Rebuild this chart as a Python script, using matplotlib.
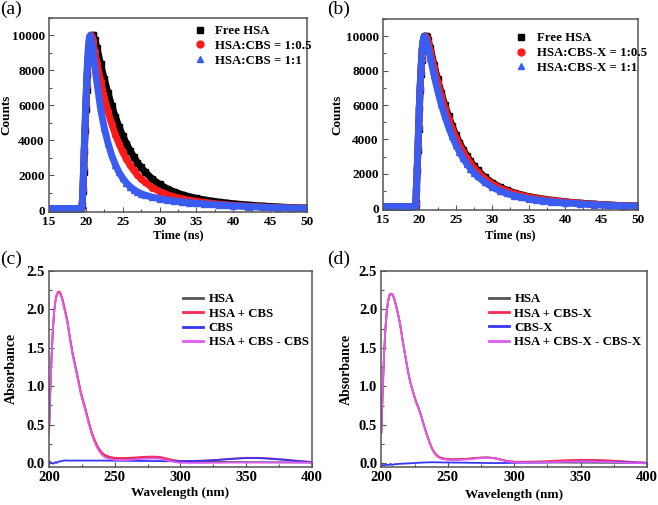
import matplotlib
matplotlib.use("Agg")
import matplotlib.pyplot as plt
from matplotlib.ticker import MultipleLocator
from matplotlib.lines import Line2D

plt.rcParams["font.family"] = ["Liberation Serif", "DejaVu Serif"]
plt.rcParams["font.weight"] = "bold"

# ---- fluorescence decay data (time in ns, counts) ----
t_ns = [15, 16, 17, 18, 19, 19.4, 19.5, 19.6, 19.7, 19.8, 19.9, 20.0, 20.1, 20.2,
        20.3, 20.4, 20.5, 20.6, 20.7, 20.8, 20.9, 21.0, 21.2, 21.5, 22, 22.5, 23,
        23.5, 24, 24.5, 25, 25.5, 26, 26.5, 27, 27.5, 28, 29, 30, 31, 32, 33, 34,
        35, 36, 37, 38, 39, 40, 42, 44, 46, 48, 50]

free_hsa = [100, 100, 100, 100, 100, 110, 300, 1100, 2200, 3400, 4600, 5800, 6900,
            7800, 8600, 9200, 9600, 9850, 9970, 10000, 10000, 9950, 9750, 9300,
            8350, 7500, 6700, 5980, 5340, 4770, 4260, 3810, 3410, 3050, 2730, 2450,
            2200, 1790, 1480, 1240, 1050, 900, 780, 680, 600, 530, 470, 420, 375,
            300, 240, 190, 150, 125]

cbs_05 = [100, 100, 100, 100, 100, 120, 350, 1200, 2400, 3600, 4800, 6000, 7100,
          8000, 8750, 9350, 9750, 9950, 10000, 9900, 9750, 9550, 9100, 8450, 7400,
          6450, 5650, 4950, 4330, 3800, 3330, 2930, 2580, 2280, 2020, 1800, 1610,
          1300, 1070, 900, 770, 665, 580, 510, 450, 400, 355, 315, 285, 230, 185,
          150, 128, 112]

cbs_1 = [100, 100, 100, 100, 100, 130, 400, 1300, 2600, 3900, 5100, 6300, 7400,
         8350, 9100, 9650, 9950, 10000, 9850, 9600, 9300, 8950, 8250, 7300, 5800,
         4700, 3850, 3150, 2600, 2170, 1830, 1560, 1350, 1180, 1050, 950, 870, 750,
         660, 590, 530, 480, 440, 400, 365, 335, 305, 280, 255, 210, 172, 143, 123,
         108]

cbsx_05 = [100, 100, 100, 100, 100, 115, 320, 1150, 2300, 3500, 4700, 5900, 7000,
           7900, 8650, 9250, 9650, 9900, 9980, 10000, 9980, 9900, 9650, 9150, 8200,
           7330, 6530, 5820, 5180, 4610, 4100, 3660, 3270, 2920, 2610, 2340, 2100,
           1710, 1410, 1180, 1000, 860, 745, 650, 575, 510, 455, 405, 365, 290, 230,
           185, 148, 122]

cbsx_1 = [100, 100, 100, 100, 100, 120, 350, 1200, 2400, 3600, 4800, 6000, 7100,
          8000, 8750, 9350, 9750, 9950, 10000, 9950, 9850, 9700, 9350, 8750, 7750,
          6850, 6050, 5350, 4730, 4180, 3700, 3280, 2910, 2590, 2310, 2060, 1850,
          1500, 1230, 1020, 860, 735, 635, 555, 490, 435, 390, 350, 315, 255, 205,
          165, 135, 115]

# ---- UV-vis absorbance data ----
wl = [200, 201, 202, 203, 204, 205, 206, 207, 208, 209, 210, 211, 212, 214, 216,
      218, 220, 222, 224, 226, 228, 230, 232, 234, 236, 238, 240, 242, 245, 250,
      255, 260, 265, 270, 275, 280, 285, 290, 295, 300, 310, 320, 330, 340, 350,
      360, 370, 380, 390, 400]

hsa_c = [0.40, 0.95, 1.40, 1.75, 1.98, 2.12, 2.19, 2.22, 2.22, 2.19, 2.14, 2.07,
         2.00, 1.84, 1.62, 1.42, 1.26, 1.10, 0.93, 0.80, 0.68, 0.54, 0.42, 0.32,
         0.24, 0.175, 0.13, 0.10, 0.075, 0.058, 0.055, 0.057, 0.062, 0.069, 0.075,
         0.077, 0.070, 0.048, 0.028, 0.020, 0.016, 0.014, 0.012, 0.011, 0.010,
         0.009, 0.008, 0.007, 0.006, 0.005]
mix_c = [0.41, 0.96, 1.41, 1.76, 1.99, 2.13, 2.20, 2.23, 2.23, 2.20, 2.15, 2.08,
         2.01, 1.85, 1.63, 1.43, 1.27, 1.11, 0.94, 0.81, 0.69, 0.55, 0.43, 0.33,
         0.25, 0.185, 0.14, 0.11, 0.085, 0.066, 0.063, 0.065, 0.070, 0.076, 0.081,
         0.082, 0.076, 0.055, 0.035, 0.024, 0.024, 0.030, 0.042, 0.056, 0.066,
         0.066, 0.056, 0.042, 0.026, 0.012]
cbs_c = [0.02, 0.01, 0.0, -0.01, -0.005, 0.01, 0.0, 0.015, 0.02, 0.02, 0.025, 0.03,
         0.032, 0.03, 0.03, 0.03, 0.03, 0.03, 0.03, 0.03, 0.03, 0.03, 0.03, 0.03,
         0.03, 0.03, 0.03, 0.03, 0.029, 0.028, 0.028, 0.027, 0.026, 0.025, 0.025,
         0.024, 0.023, 0.022, 0.022, 0.022, 0.025, 0.030, 0.040, 0.052, 0.062,
         0.062, 0.052, 0.038, 0.022, 0.010]
diff_c = [0.39, 0.95, 1.41, 1.77, 1.99, 2.12, 2.20, 2.21, 2.21, 2.18, 2.13, 2.05,
          1.98, 1.82, 1.60, 1.40, 1.24, 1.08, 0.91, 0.78, 0.66, 0.52, 0.40, 0.30,
          0.22, 0.155, 0.11, 0.08, 0.056, 0.038, 0.035, 0.038, 0.044, 0.051, 0.056,
          0.058, 0.053, 0.033, 0.013, 0.002, -0.001, 0.0, 0.002, 0.004, 0.004,
          0.004, 0.004, 0.004, 0.004, 0.002]

hsa_d = [0.40, 0.92, 1.38, 1.72, 1.95, 2.09, 2.17, 2.20, 2.20, 2.17, 2.12, 2.05,
         1.98, 1.82, 1.60, 1.40, 1.20, 1.04, 0.92, 0.81, 0.72, 0.62, 0.50, 0.39,
         0.29, 0.20, 0.14, 0.10, 0.07, 0.055, 0.052, 0.055, 0.060, 0.068, 0.075,
         0.077, 0.070, 0.050, 0.030, 0.020, 0.015, 0.013, 0.012, 0.011, 0.010,
         0.009, 0.008, 0.007, 0.006, 0.005]
mix_d = [0.40, 0.92, 1.38, 1.72, 1.95, 2.09, 2.17, 2.20, 2.20, 2.17, 2.12, 2.05,
         1.98, 1.82, 1.60, 1.40, 1.20, 1.04, 0.92, 0.81, 0.72, 0.62, 0.50, 0.39,
         0.29, 0.20, 0.14, 0.10, 0.07, 0.055, 0.052, 0.055, 0.060, 0.068, 0.075,
         0.077, 0.070, 0.050, 0.030, 0.022, 0.022, 0.026, 0.034, 0.042, 0.047,
         0.046, 0.040, 0.030, 0.018, 0.008]
cbs_d = [-0.02, -0.022, -0.025, -0.02, -0.015, -0.018, -0.02, -0.005, -0.02,
         -0.015, -0.01, -0.01, -0.008, -0.005, -0.003, -0.002, 0.0, 0.002, 0.004,
         0.006, 0.008, 0.01, 0.012, 0.013, 0.014, 0.015, 0.015, 0.014, 0.013,
         0.012, 0.011, 0.010, 0.009, 0.008, 0.007, 0.005, 0.005, 0.005, 0.006,
         0.008, 0.010, 0.012, 0.016, 0.020, 0.025, 0.025, 0.022, 0.018, 0.012,
         0.008]
diff_d = [0.42, 0.94, 1.40, 1.74, 1.97, 2.11, 2.19, 2.20, 2.20, 2.18, 2.13, 2.06,
          1.99, 1.83, 1.60, 1.40, 1.20, 1.04, 0.92, 0.80, 0.71, 0.61, 0.49, 0.38,
          0.28, 0.19, 0.13, 0.09, 0.06, 0.045, 0.042, 0.046, 0.052, 0.061, 0.069,
          0.073, 0.066, 0.046, 0.025, 0.014, 0.012, 0.014, 0.018, 0.022, 0.022,
          0.021, 0.018, 0.012, 0.006, 0.0]

fig = plt.figure(figsize=(6.58, 5.05), dpi=100)
ax_a = fig.add_axes([0.0745, 0.5802, 0.3921, 0.3842])
ax_b = fig.add_axes([0.582, 0.5842, 0.3876, 0.3782])
ax_c = fig.add_axes([0.0745, 0.0758, 0.3992, 0.3876])
ax_d = fig.add_axes([0.5795, 0.0747, 0.4038, 0.3893])

black, red, blue = "#000000", "#ff1a1a", "#3a5cf0"


def style(ax, tick_size):
    for s in ax.spines.values():
        s.set_color("#555555")
        s.set_linewidth(1.1)
    ax.tick_params(which="both", direction="in", top=False, right=False,
                   labelsize=tick_size, color="#555555", pad=3)
    ax.tick_params(which="major", length=3.5, width=0.8)
    ax.tick_params(which="minor", length=2, width=0.8)
    for lab in ax.get_xticklabels() + ax.get_yticklabels():
        lab.set_fontweight("bold")


def decay(ax, series, labels, lab_xy):
    marks = ["s", "o", "^"]
    cols = [black, red, blue]
    handles = []
    for ys, m, c, lab in zip(series, marks, cols, labels):
        ax.plot(t_ns, ys, color=c, lw=5.0, solid_capstyle="round")
        ax.plot(t_ns, ys, ls="none", marker=m, ms=4.2, color=c, mec=c)
        handles.append(Line2D([], [], ls="none", marker=m, ms=5, color=c, label=lab))
    ax.set_xlim(15, 50)
    ax.set_ylim(-100, 11000)
    ax.xaxis.set_major_locator(MultipleLocator(5))
    ax.xaxis.set_minor_locator(MultipleLocator(2.5))
    ax.yaxis.set_major_locator(MultipleLocator(2000))
    ax.yaxis.set_minor_locator(MultipleLocator(1000))
    ax.set_xlabel("Time (ns)", fontsize=9, fontweight="bold")
    ax.set_ylabel("Counts", fontsize=9.5, fontweight="bold")
    style(ax, 9.5)
    ax.legend(handles=handles, loc="upper left", bbox_to_anchor=lab_xy,
              frameon=False, handlelength=1.0, handletextpad=0.7,
              labelspacing=0.2, borderpad=0, borderaxespad=0,
              prop={"weight": "bold", "size": 9.3})


def absorb(ax, series, labels, lab_xy):
    cols = ["#555555", "#ff2a55", "#3535f5", "#dd5cf0"]
    for ys, c, lab in zip(series, cols, labels):
        ax.plot(wl, ys, color=c, lw=1.3, label=lab)
    ax.set_xlim(200, 400)
    ax.set_ylim(-0.05, 2.5)
    ax.xaxis.set_major_locator(MultipleLocator(50))
    ax.xaxis.set_minor_locator(MultipleLocator(25))
    ax.yaxis.set_major_locator(MultipleLocator(0.5))
    ax.yaxis.set_minor_locator(MultipleLocator(0.25))
    ax.yaxis.set_major_formatter(plt.FormatStrFormatter("%.1f"))
    ax.set_xlabel("Wavelength (nm)", fontsize=9.5, fontweight="bold")
    ax.set_ylabel("Absorbance", fontsize=10, fontweight="bold")
    style(ax, 10.5)
    leg = ax.legend(loc="upper left", bbox_to_anchor=lab_xy, frameon=False,
                    handlelength=1.6, handletextpad=0.4, labelspacing=0.18,
                    borderpad=0, borderaxespad=0,
                    prop={"weight": "bold", "size": 9.2})
    for h in leg.get_lines():
        h.set_linewidth(2.0)


decay(ax_a, [free_hsa, cbs_05, cbs_1],
      ["Free HSA", "HSA:CBS = 1:0.5", "HSA:CBS = 1:1"], (0.56, 0.962))
decay(ax_b, [free_hsa, cbsx_05, cbsx_1],
      ["Free HSA", "HSA:CBS-X = 1:0.5", "HSA:CBS-X = 1:1"], (0.516, 0.93))
absorb(ax_c, [hsa_c, mix_c, cbs_c, diff_c],
       ["HSA", "HSA + CBS", "CBS", "HSA + CBS - CBS"], (0.51, 0.885))
absorb(ax_d, [hsa_d, mix_d, cbs_d, diff_d],
       ["HSA", "HSA + CBS-X", "CBS-X", "HSA + CBS-X - CBS-X"], (0.405, 0.885))

ax_a.yaxis.set_label_coords(-0.143, 0.5)
ax_b.yaxis.set_label_coords(-0.157, 0.5)
ax_c.yaxis.set_label_coords(-0.118, 0.5)
ax_d.yaxis.set_label_coords(-0.107, 0.5)
ax_a.xaxis.set_label_coords(0.5, -0.09)
ax_b.xaxis.set_label_coords(0.5, -0.1)
ax_c.xaxis.set_label_coords(0.5, -0.105)
ax_d.xaxis.set_label_coords(0.5, -0.11)

for lab, x, y in [("(a)", 0.0, 0.998), ("(b)", 0.497, 0.998),
                  ("(c)", 0.0, 0.503), ("(d)", 0.497, 0.503)]:
    fig.text(x, y, lab, fontsize=14, fontweight="normal", ha="left", va="top")

fig.savefig("out.png", dpi=100)
